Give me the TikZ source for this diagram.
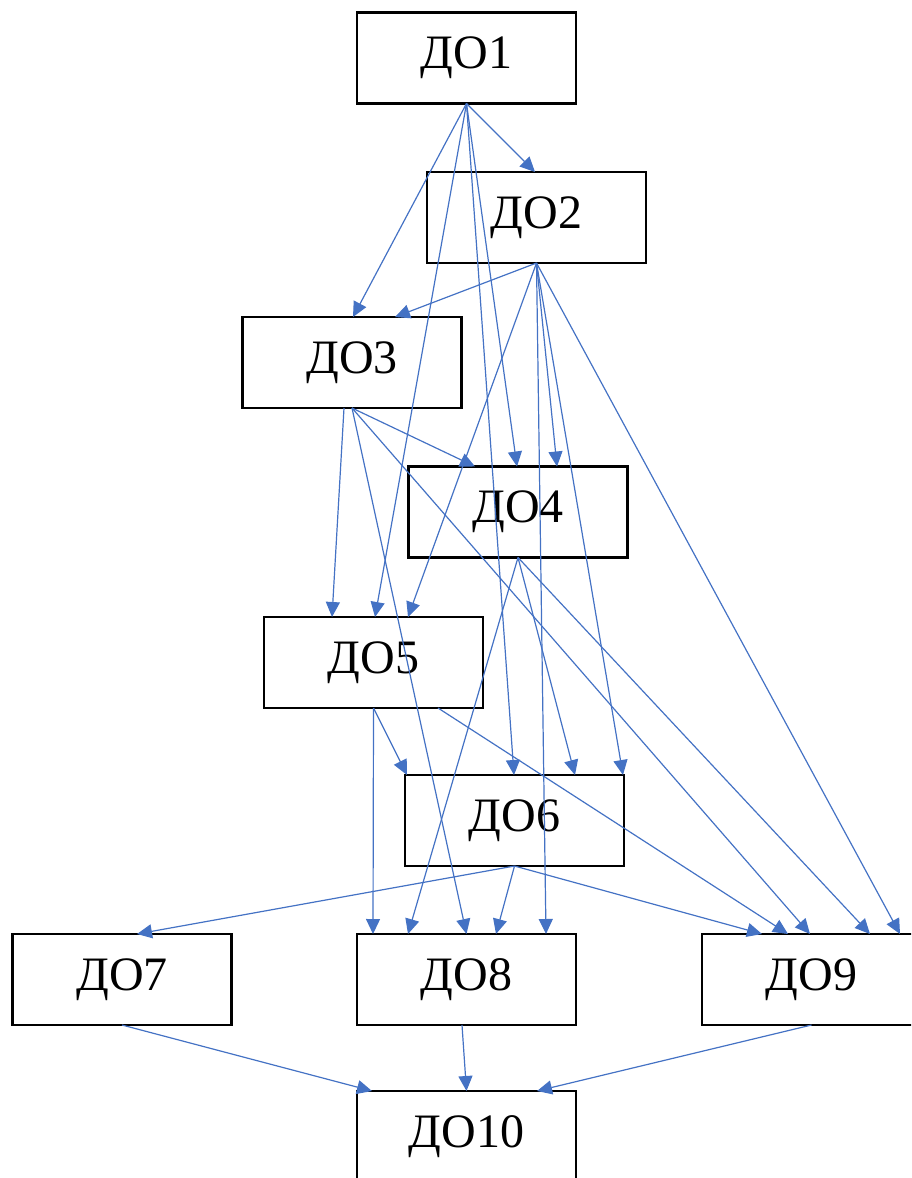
\documentclass[tikz,border=0pt]{standalone}
\usepackage{fontspec}
\setmainfont{Liberation Serif}
\usetikzlibrary{arrows.meta}
\definecolor{linkblue}{HTML}{4472C4}
\begin{document}
\begin{tikzpicture}[x=1pt,y=-1pt,
  dobox/.style={draw=black,line width=2.4pt,fill=white,minimum width=219pt,
    minimum height=91pt,inner sep=0pt,outer sep=0pt,font=\fontsize{48}{50}\selectfont},
  link/.style={draw=linkblue,line width=1.2pt,
    -{Triangle[length=15pt,width=14pt]}}]
\useasboundingbox (0,0) rectangle (911,1178);
\clip (0,0) rectangle (911,1178);

% stages
\node[dobox] (d1)  at (466.5,58)    {ДО1};
\node[dobox] (d2)  at (536.5,217.5) {ДО2};
\node[dobox] (d3)  at (352,362.5)   {ДО3};
\node[dobox] (d4)  at (518,512)     {ДО4};
\node[dobox] (d5)  at (373.5,662.5) {ДО5};
\node[dobox] (d6)  at (514.5,820.5) {ДО6};
\node[dobox] (d7)  at (122,979.5)   {ДО7};
\node[dobox] (d8)  at (466.5,979.5) {ДО8};
\node[dobox] (d9)  at (811.5,979.5) {ДО9};
\node[dobox] (d10) at (466.5,1136.5){ДО10};

% links from ДО1
\draw[link] (d1.south) -- ([xshift=-1.5pt]d2.north);
\draw[link] (d1.south) -- ([xshift=1pt]d3.north);
\draw[link] (d1.south) -- ([xshift=1.5pt]d5.north);
\draw[link] (d1.south) -- ([xshift=-1pt]d4.north);
\draw[link] (d1.south) -- ([xshift=-0.5pt]d6.north);

% links from ДО2
\draw[link] (d2.south) -- ([xshift=43pt]d3.north);
\draw[link] (d2.south) -- ([xshift=34.5pt]d5.north);
\draw[link] (d2.south) -- ([xshift=39pt]d4.north);
\draw[link] (d2.south) -- ([xshift=79.5pt]d8.north);
\draw[link] (d2.south) -- ([xshift=108.5pt]d6.north);
\draw[link] (d2.south) -- ([xshift=88.5pt]d9.north);

% links from ДО3
\draw[link] ([xshift=-8pt]d3.south) -- ([xshift=-41.5pt]d5.north);
\draw[link] (d3.south) -- ([xshift=-43pt]d4.north);
\draw[link] (d3.south) -- (d8.north);
\draw[link] (d3.south) -- ([xshift=-1.5pt]d9.north);

% links from ДО4
\draw[link] (d4.south) -- ([xshift=60.5pt]d6.north);
\draw[link] (d4.south) -- ([xshift=-58.5pt]d8.north);
\draw[link] (d4.south) -- ([xshift=58.5pt]d9.north);

% links from ДО5
\draw[link] (d5.south) -- ([xshift=-107.5pt]d6.north);
\draw[link] (d5.south) -- ([xshift=-93.5pt]d8.north);
\draw[link] ([xshift=64.5pt]d5.south) -- ([xshift=-23.5pt]d9.north);

% links from ДО6
\draw[link] (d6.south) -- ([xshift=15pt]d7.north);
\draw[link] (d6.south) -- ([xshift=29.5pt]d8.north);
\draw[link] (d6.south) -- ([xshift=-49.5pt]d9.north);

% links into ДО10
\draw[link] (d7.south) -- ([xshift=-94.5pt]d10.north);
\draw[link] ([xshift=-4.5pt]d8.south) -- (d10.north);
\draw[link] (d9.south) -- ([xshift=70.5pt]d10.north);
\end{tikzpicture}
\end{document}
